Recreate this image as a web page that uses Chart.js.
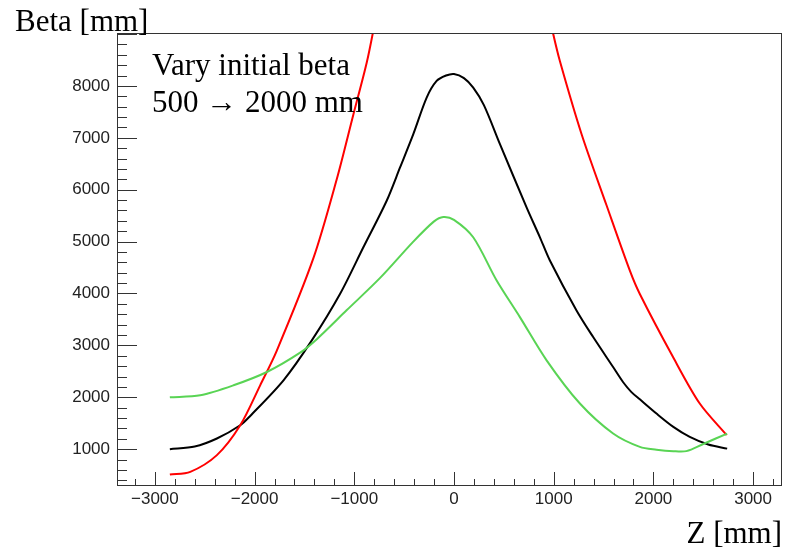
<!DOCTYPE html>
<html>
<head>
<meta charset="utf-8">
<script src="https://cdn.jsdelivr.net/npm/chart.js@4/dist/chart.umd.min.js"></script>
<style>
  body { margin: 0; background: #fff; }
  canvas { display: block; }
</style>
</head>
<body>
<canvas id="beta" width="786" height="549"></canvas>
<script>
// Z positions [mm] and beta values [mm], one pair of arrays per curve
const zBlack    = [-2850, -2600, -2378, -2144, -2044, -1710, -1426, -1142, -909, -675, -541, -408, -274, -174, -80, 0, 100, 193, 300, 461, 728, 862, 962, 1229, 1396, 1596, 1697, 1780, 1864, 2031, 2200, 2365, 2550, 2740];
const betaBlack = [1000, 1050, 1205, 1460, 1640, 2327, 3096, 3994, 4890, 5788, 6429, 7071, 7775, 8096, 8200, 8230, 8150, 7967, 7630, 6879, 5660, 5083, 4635, 3673, 3160, 2583, 2290, 2100, 1960, 1686, 1430, 1237, 1090, 1010];

const zGreen    = [-2850, -2545, -2211, -1877, -1543, -1376, -1075, -741, -408, -200, -107, 0, 193, 428, 661, 929, 1263, 1596, 1864, 2031, 2200, 2331, 2500, 2740];
const betaGreen = [2000, 2038, 2231, 2487, 2860, 3120, 3680, 4300, 5000, 5390, 5475, 5420, 5083, 4250, 3545, 2712, 1879, 1302, 1044, 990, 960, 962, 1100, 1300];

// the top of the red curve runs off the frame; hidden values are rough guesses
const zRed    = [-2850, -2645, -2378, -2144, -1944, -1777, -1410, -1176, -1009, -875, -650, 0, 850, 1062, 1280, 1530, 1764, 1864, 2197, 2465, 2735];
const betaRed = [510, 563, 885, 1460, 2230, 2900, 4680, 6200, 7450, 8450, 10400, 13500, 10000, 8481, 7070, 5700, 4440, 3990, 2775, 1879, 1270];

// axis tick labels
const zTicks    = [-3000, -2000, -1000, 0, 1000, 2000, 3000];
const betaTicks = [1000, 2000, 3000, 4000, 5000, 6000, 7000, 8000];

const toPoints = (zs, bs) => zs.map((z, i) => ({ x: z, y: bs[i] }));

const labelFont = { family: 'Liberation Sans, Arial, sans-serif', size: 17 };
const textFont = '31px "Liberation Serif", "Times New Roman", serif';

// white page, ROOT-style frame, inward ticks and free-standing texts
const rootStyle = {
    id: 'rootStyle',
    beforeDraw(chart) {
        const ctx = chart.ctx;
        ctx.save();
        ctx.fillStyle = '#fff';
        ctx.fillRect(0, 0, chart.width, chart.height);
        ctx.restore();
    },
    afterDraw(chart) {
        const { ctx, chartArea: a, scales } = chart;
        const xs = scales.x, ys = scales.y;
        ctx.save();
        ctx.strokeStyle = '#333';
        ctx.lineWidth = 1;
        ctx.strokeRect(a.left + 0.5, a.top + 0.5, a.right - a.left - 1, a.bottom - a.top - 1);

        ctx.beginPath();
        for (let v = -3200; v <= 3200; v += 200) {
            const px = Math.round(xs.getPixelForValue(v)) + 0.5;
            const len = v % 1000 === 0 ? 14 : 7;
            ctx.moveTo(px, a.bottom);
            ctx.lineTo(px, a.bottom - len);
        }
        for (let v = 400; v <= 9000; v += 200) {
            const py = Math.round(ys.getPixelForValue(v)) + 0.5;
            const len = v % 1000 === 0 ? 20 : 10;
            ctx.moveTo(a.left, py);
            ctx.lineTo(a.left + len, py);
        }
        ctx.stroke();

        ctx.fillStyle = '#000';
        ctx.font = textFont;
        ctx.textBaseline = 'alphabetic';
        ctx.textAlign = 'left';
        ctx.fillText('Beta [mm]', 15, 31);
        ctx.fillText('Vary initial beta', 152, 75);
        ctx.fillText('500 \u2192 2000 mm', 152, 112);
        ctx.textAlign = 'right';
        ctx.fillText('Z [mm]', 782, 543);
        ctx.restore();
    }
};

const lineStyle = (color, order) => ({
    borderColor: color,
    backgroundColor: color,
    borderWidth: 2,
    pointRadius: 0,
    tension: 0.3,
    fill: false,
    clip: 0,
    order: order
});

new Chart(document.getElementById('beta').getContext('2d'), {
    type: 'scatter',
    data: {
        datasets: [
            { data: toPoints(zBlack, betaBlack), showLine: true, ...lineStyle('#000000', 3) },
            { data: toPoints(zRed, betaRed), showLine: true, ...lineStyle('#ff0000', 2) },
            { data: toPoints(zGreen, betaGreen), showLine: true, ...lineStyle('#59d454', 1) }
        ]
    },
    options: {
        responsive: false,
        animation: false,
        layout: { padding: { left: 0, right: 4, top: 33, bottom: 0 } },
        plugins: {
            legend: { display: false },
            tooltip: { enabled: false }
        },
        scales: {
            x: {
                type: 'linear',
                min: -3380,
                max: 3290,
                grid: { display: false, drawTicks: false },
                border: { display: false },
                afterFit: (s) => { s.height = 63; },
                afterBuildTicks: (s) => { s.ticks = zTicks.map(v => ({ value: v })); },
                ticks: {
                    padding: 3,
                    color: '#222',
                    font: labelFont,
                    maxRotation: 0,
                    callback: (v) => v < 0 ? '\u2212' + Math.abs(v) : String(v)
                }
            },
            y: {
                type: 'linear',
                min: 290,
                max: 9020,
                grid: { display: false, drawTicks: false },
                border: { display: false },
                afterFit: (s) => { s.width = 117; },
                afterBuildTicks: (s) => { s.ticks = betaTicks.map(v => ({ value: v })); },
                ticks: {
                    padding: 7,
                    color: '#222',
                    font: labelFont,
                    callback: (v) => String(v)
                }
            }
        }
    },
    plugins: [rootStyle]
});
</script>
</body>
</html>
